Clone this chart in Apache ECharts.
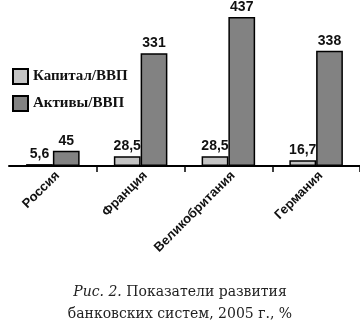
<!DOCTYPE html>
<html><head><meta charset="utf-8">
<script src="https://cdn.jsdelivr.net/npm/echarts@6/dist/echarts.min.js"></script>
<style>html,body{margin:0;padding:0;background:#fff}#c{width:360px;height:330px}</style>
</head><body><div id="c"></div>
<script>
const categories = ['Россия', 'Франция', 'Великобритания', 'Германия'];
const capital = [5.6, 28.5, 28.5, 16.7];
const assets = [45, 331, 437, 338];
const seriesNames = ['Капитал/ВВП', 'Активы/ВВП'];
const captionItalic = 'Рис. 2.';
const captionLine1 = 'Показатели развития';
const captionLine2 = 'банковских систем, 2005 г., %';

const fmt = v => String(v).replace('.', ',');
const chart = echarts.init(document.getElementById('c'), null, {renderer: 'canvas'});
const labelStyle = {show: true, position: 'top', distance: 3, fontFamily: 'Liberation Sans', fontWeight: 'bold', fontSize: 14, color: '#111', formatter: p => fmt(p.value)};
chart.setOption({
  animation: false,
  title: {
    text: '{i|' + captionItalic + '} ' + captionLine1 + '\n' + captionLine2,
    left: 'center', top: 281, padding: 0,
    textStyle: {fontFamily: 'DejaVu Serif', fontSize: 14, fontWeight: 'normal', color: '#222', lineHeight: 22,
      rich: {i: {fontFamily: 'DejaVu Serif', fontStyle: 'italic', fontSize: 14, color: '#222', lineHeight: 22}}}
  },
  legend: {
    data: seriesNames, orient: 'vertical', left: 12, top: 68, padding: 0,
    itemWidth: 15, itemHeight: 15, itemGap: 10, icon: 'rect',
    textStyle: {fontFamily: 'Liberation Serif', fontWeight: 'bold', fontSize: 15, color: '#111'}
  },
  grid: {left: 9, right: -8, top: 17, bottom: 164, containLabel: false},
  xAxis: {
    type: 'category', data: categories,
    axisLine: {lineStyle: {color: '#000', width: 2}},
    axisTick: {show: true, length: 6, lineStyle: {color: '#000', width: 1.5}, interval: (i) => i !== 0},
    axisLabel: {rotate: 45, margin: 3, verticalAlign: 'top', fontFamily: 'Liberation Sans', fontWeight: 'bold', fontSize: 13, color: '#111'}
  },
  yAxis: {type: 'value', min: 0, max: 437, show: false, splitLine: {show: false}},
  series: [
    {name: seriesNames[0], type: 'bar', data: capital, barGap: 0, barCategoryGap: '39%',
      itemStyle: {color: '#c4c4c4', borderColor: '#000', borderWidth: 1.5}, label: labelStyle},
    {name: seriesNames[1], type: 'bar', data: assets,
      itemStyle: {color: '#828282', borderColor: '#000', borderWidth: 1.5}, label: labelStyle}
  ]
});
</script></body></html>
